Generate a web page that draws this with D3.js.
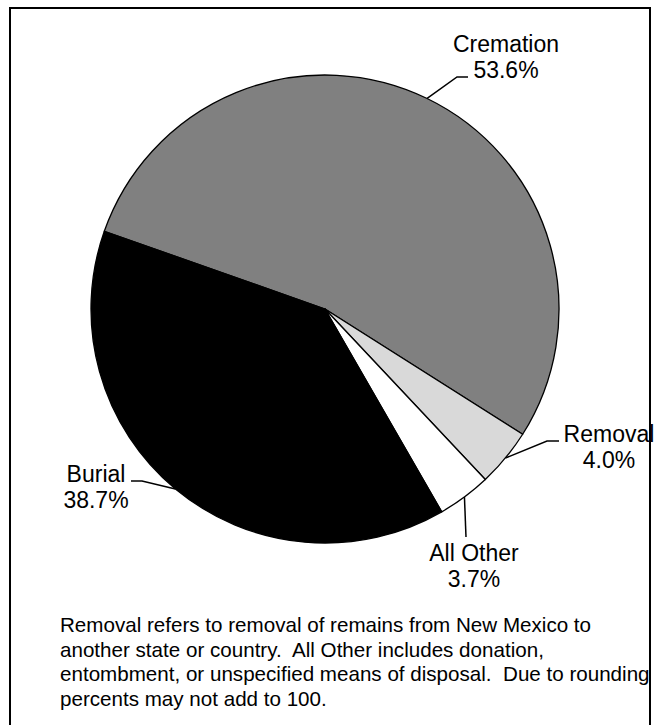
<!DOCTYPE html>
<html>
<head>
<meta charset="utf-8">
<script src="https://cdn.jsdelivr.net/npm/d3@7/dist/d3.min.js"></script>
<style>
  html, body { margin: 0; padding: 0; background: #fff; }
  svg { display: block; }
  text { font-family: "Liberation Sans", Arial, sans-serif; fill: #000; white-space: pre; }
</style>
</head>
<body>
<script>
// ---- data ----
const categories = ["Cremation", "Removal", "All Other", "Burial"];
const percents   = [53.6, 4.0, 3.7, 38.7];
const colors     = ["#808080", "#d9d9d9", "#ffffff", "#000000"];
const footnoteLines = [
  "Removal refers to removal of remains from New Mexico to",
  "another state or country.  All Other includes donation,",
  "entombment, or unspecified means of disposal.  Due to rounding",
  "percents may not add to 100."
];

// ---- layout ----
const W = 659, H = 725;
const cx = 325, cy = 309, R = 234;
const firstSliceDeg = -70.6;
// label layout: elbow point, end of leader, label anchor (middle), first baseline
const labelLayout = {
  "Cremation": { elbow: [457, 77], end: [468, 77], tx: 506, ty: 52 },
  "Removal":   { elbow: [547, 441], end: [559, 441], tx: 609, ty: 442 },
  "All Other": { elbow: null, end: [466, 537], tx: 474, ty: 561 },
  "Burial":    { elbow: [142, 481], end: [131, 481], tx: 96, ty: 482 }
};

const svg = d3.select("body").append("svg")
  .attr("width", W).attr("height", H);

// border
svg.append("rect")
  .attr("x", 10).attr("y", 8)
  .attr("width", 640).attr("height", 740)
  .attr("fill", "none").attr("stroke", "#000").attr("stroke-width", 2);

const data = categories.map((c, i) => ({ name: c, value: percents[i], color: colors[i] }));

const pie = d3.pie()
  .value(d => d.value)
  .sort(null)
  .startAngle(firstSliceDeg * Math.PI / 180)
  .endAngle(firstSliceDeg * Math.PI / 180 + 2 * Math.PI);

const arcs = pie(data);
const arc = d3.arc().innerRadius(0).outerRadius(R);

const g = svg.append("g").attr("transform", `translate(${cx},${cy})`);

g.selectAll("path.slice")
  .data(arcs)
  .join("path")
  .attr("class", "slice")
  .attr("d", arc)
  .attr("fill", d => d.data.color)
  .attr("stroke", "#000")
  .attr("stroke-width", 1.3)
  .attr("stroke-linejoin", "round");

// leader lines + labels
arcs.forEach(d => {
  const mid = (d.startAngle + d.endAngle) / 2;
  const px = cx + R * Math.sin(mid);
  const py = cy - R * Math.cos(mid);
  const L = labelLayout[d.data.name];
  const pts = [[px, py]];
  if (L.elbow) pts.push(L.elbow);
  pts.push(L.end);
  svg.append("path")
    .attr("d", d3.line()(pts))
    .attr("fill", "none")
    .attr("stroke", "#000")
    .attr("stroke-width", 1.5);

  const t = svg.append("text")
    .attr("text-anchor", "middle")
    .attr("font-size", 23);
  t.append("tspan").attr("x", L.tx).attr("y", L.ty).text(d.data.name);
  t.append("tspan").attr("x", L.tx).attr("y", L.ty + 26).text(d3.format(".1f")(d.data.value) + "%");
});

// footnote
const fn = svg.append("text").attr("font-size", 20.6).attr("xml:space", "preserve");
footnoteLines.forEach((line, i) => {
  fn.append("tspan").attr("x", 60).attr("y", 632 + i * 24.5).text(line);
});
</script>
</body>
</html>
